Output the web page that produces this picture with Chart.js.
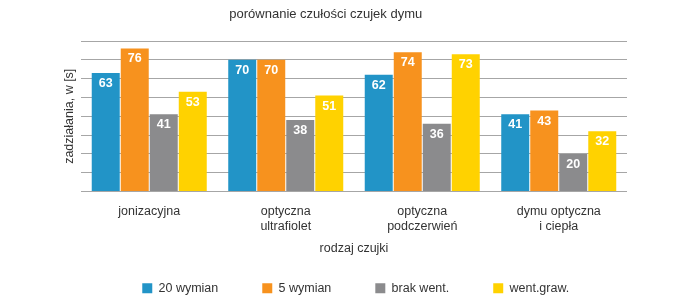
<!DOCTYPE html>
<html>
<head>
<meta charset="utf-8">
<script src="https://cdn.jsdelivr.net/npm/chart.js@4/dist/chart.umd.min.js"></script>
<style>
  html, body { margin: 0; padding: 0; background: #ffffff; }
  #wrap { width: 700px; height: 297px; position: relative; }
</style>
</head>
<body>
<div id="wrap"><canvas id="c" width="700" height="297"></canvas></div>
<script>
// ---- data ----
const categories = ["jonizacyjna", ["optyczna", "ultrafiolet"], ["optyczna", "podczerwień"], ["dymu optyczna", "i ciepła"]];
const seriesNames = ["20 wymian", "5 wymian", "brak went.", "went.graw."];
const wymian20 = [63, 70, 62, 41];
const wymian5 = [76, 70, 74, 43];
const brakWent = [41, 38, 36, 20];
const wentGraw = [53, 51, 73, 32];
const yTicks = [0, 10, 20, 30, 40, 50, 60, 70, 80];

const colors = ["#2294c7", "#f7921e", "#8b8b8d", "#ffd200"];
const FONT = "'Liberation Sans', Arial, Helvetica, sans-serif";
const TEXT = "#333333";

Chart.defaults.font.family = FONT;
Chart.defaults.color = TEXT;

const LEGEND_H = 15;
const LEGEND_DX = 13;
const TITLE_DX = -17;

const valueLabels = {
  id: 'valueLabels',
  afterDatasetsDraw(chart) {
    const ctx = chart.ctx;
    ctx.save();
    ctx.fillStyle = '#ffffff';
    ctx.font = "bold 12.5px " + FONT;
    ctx.textAlign = 'center';
    ctx.textBaseline = 'middle';
    chart.data.datasets.forEach((ds, i) => {
      const meta = chart.getDatasetMeta(i);
      meta.data.forEach((el, j) => {
        ctx.fillText(String(ds.data[j]), el.x, el.y + 10.5);
      });
    });
    ctx.restore();
  }
};

const layoutTweaks = {
  id: 'layoutTweaks',
  beforeInit(chart) {
    const lg = chart.legend;
    if (lg && !lg._fitWrapped) {
      const origFit = lg.fit.bind(lg);
      lg.fit = function () {
        origFit();
        if (this.isHorizontal()) this.height = LEGEND_H;
      };
      lg._fitWrapped = true;
    }
  },
  afterLayout(chart) {
    const lg = chart.legend;
    if (lg) {
      lg.top -= lg.options.labels.padding;
      lg.left += LEGEND_DX;
      lg.right += LEGEND_DX;
    }
    const tb = chart.titleBlock;
    if (tb) {
      tb.left += TITLE_DX;
      tb.right += TITLE_DX;
    }
  }
};

const datasets = [wymian20, wymian5, brakWent, wentGraw].map((d, i) => ({
  label: seriesNames[i],
  data: d,
  backgroundColor: colors[i],
  borderWidth: 0,
  categoryPercentage: 0.85,
  barPercentage: 0.965
}));

new Chart(document.getElementById('c'), {
  type: 'bar',
  data: { labels: categories, datasets },
  plugins: [layoutTweaks, valueLabels],
  options: {
    responsive: false,
    animation: false,
    devicePixelRatio: 1,
    layout: { padding: { left: 58.5, right: 73, top: 0, bottom: 0 } },
    plugins: {
      title: {
        display: true,
        text: "porównanie czułości czujek dymu",
        color: TEXT,
        font: { size: 13, weight: 'normal', family: FONT },
        padding: { top: 6.2, bottom: 19.2 }
      },
      legend: {
        display: true,
        position: 'bottom',
        labels: {
          boxWidth: 10,
          boxHeight: 10,
          padding: 44,
          color: TEXT,
          font: { size: 12.5, family: FONT }
        }
      },
      tooltip: { enabled: false }
    },
    scales: {
      x: {
        grid: { display: false, drawTicks: false },
        border: { display: false },
        ticks: {
          padding: 12.5,
          color: TEXT,
          font: { size: 12.5, family: FONT },
          maxRotation: 0,
          autoSkip: false
        },
        title: {
          display: true,
          text: "rodzaj czujki",
          color: TEXT,
          font: { size: 12.5, family: FONT },
          padding: { top: -5.5, bottom: 26 }
        }
      },
      y: {
        min: yTicks[0],
        max: yTicks[yTicks.length - 1],
        afterBuildTicks(scale) { scale.ticks = yTicks.map(v => ({ value: v })); },
        grid: { color: "#a6a6a6", lineWidth: 1, drawTicks: false },
        border: { display: false },
        ticks: { display: false },
        title: {
          display: true,
          text: "zadziałania, w [s]",
          color: TEXT,
          font: { size: 12.5, family: FONT },
          padding: { top: 4, bottom: 3.5 }
        }
      }
    }
  }
});
</script>
</body>
</html>
